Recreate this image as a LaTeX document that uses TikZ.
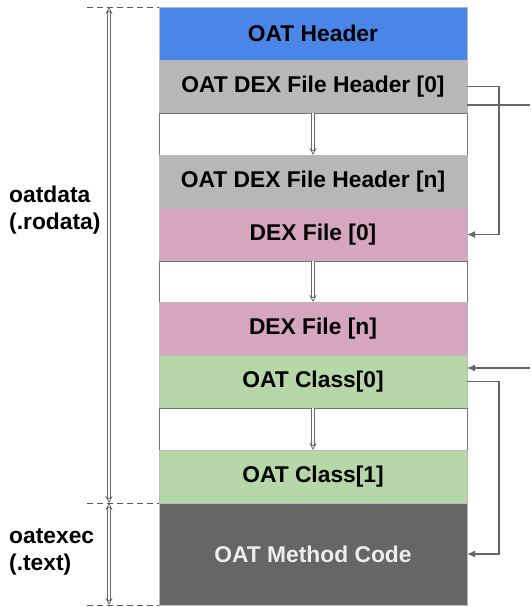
\documentclass[tikz,border=0pt]{standalone}
\usepackage{fontspec}
\setmainfont{Liberation Sans}
\usetikzlibrary{arrows.meta}
\usetikzlibrary{positioning}
\definecolor{hdrblue}{HTML}{4A86E8}
\definecolor{dexgray}{HTML}{B7B7B7}
\definecolor{dexpink}{HTML}{D5A6BD}
\definecolor{clsgreen}{HTML}{B6D7A8}
\definecolor{codegray}{HTML}{666666}
\tikzset{
    blk/.style = {draw=black!27,line width=0.8pt,minimum width=308pt,minimum height=53pt,
        inner sep=0,outer sep=0,font=\bfseries\fontsize{22.8}{27}\selectfont},
    gap/.style = {blk,draw=black!55,fill=white,minimum height=42pt},
    lbl/.style = {anchor=west,align=left,inner sep=0,font=\bfseries\fontsize{22.8}{27}\selectfont},
    marker/.style = {dashed,black!65,line width=0.8pt,dash pattern=on 6pt off 4pt},
    hollow/.style = {draw=black!60,double=white,double distance=2.2pt,line width=0.7pt},
    link/.style = {black!60,line width=1.3pt},
    ptr/.style = {link,-{Latex[length=8pt,width=7pt]}}
}
\begin{document}
\begin{tikzpicture}[x=1pt,y=-1pt,node distance=0pt]
    \useasboundingbox (0,0) rectangle (530,607);
    % Sections
    \node[blk,fill=hdrblue,anchor=north] (hdr) at (313,7) {OAT Header};
    \node[blk,fill=dexgray,below=of hdr] (dh0) {OAT DEX File Header [0]};
    \node[gap,below=of dh0] (gap1) {};
    \node[blk,fill=dexgray,below=of gap1] (dhn) {OAT DEX File Header [n]};
    \node[blk,fill=dexpink,below=of dhn] (dex0) {DEX File [0]};
    \node[gap,below=of dex0,minimum height=41pt] (gap2) {};
    \node[blk,fill=dexpink,below=of gap2] (dexn) {DEX File [n]};
    \node[blk,fill=clsgreen,below=of dexn] (cls0) {OAT Class[0]};
    \node[gap,below=of cls0] (gap3) {};
    \node[blk,fill=clsgreen,below=of gap3] (cls1) {OAT Class[1]};
    \node[blk,fill=codegray,text=black!7,minimum height=102pt,below=of cls1] (code) {OAT Method Code};
    % Segment labels
    \node[lbl] (rodata) at (9,210) {oatdata\\(.rodata)};
    \node[lbl] (text) at (9,552) {oatexec\\(.text)};
    % Segment bounds
    \coordinate (btop) at (87,7);
    \coordinate (bmid) at (87,503);
    \coordinate (bbot) at (87,605);
    \foreach \src/\dest in {btop/hdr.north west,bmid/code.north west,bbot/code.south west}
        \draw[marker] (\src) -- (\dest);
    \draw[hollow,{Stealth[open,length=7pt,width=7pt]}-{Stealth[open,length=7pt,width=7pt]}]
        ([xshift=22pt]btop) -- ([xshift=22pt]bmid);
    \draw[hollow,{Stealth[open,length=7pt,width=7pt]}-{Stealth[open,length=7pt,width=7pt]}]
        ([xshift=22pt]bmid) -- ([xshift=22pt]bbot);
    % Sequences
    \foreach \g in {gap1,gap2,gap3}
        \draw[hollow,-{Stealth[open,length=7pt,width=7pt]}] (\g.north) -- (\g.south);
    % Offsets
    \coordinate (inhdr) at (530,105);
    \coordinate (incls) at (530,368);
    \draw[link] (dh0.east) -- ++(32,0) |- (dex0.east) [ptr];
    \draw[link] ([yshift=-18.5pt]dh0.east) -- (inhdr);
    \draw[ptr] (incls) -- ([yshift=13.5pt]cls0.east);
    \draw[ptr] (cls0.east) -- ++(32,0) |- (code.east);
\end{tikzpicture}
\end{document}
